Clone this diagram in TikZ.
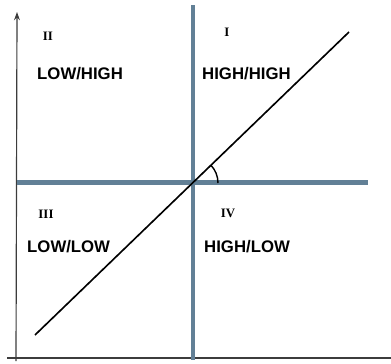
\documentclass[tikz,border=0pt]{standalone}
\usepackage{fontspec}
\setmainfont{Liberation Serif}
\setsansfont{Liberation Sans}
\usetikzlibrary{arrows.meta, calc}
\definecolor{bargrey}{RGB}{98,128,150}
\definecolor{axisgrey}{RGB}{60,60,60}

\begin{document}
\begin{tikzpicture}[x=0.03cm, y=-0.03cm,
                axis/.style={draw=axisgrey, line width=1pt},
                bar/.style={draw=bargrey, line width=4.2pt},
                trend/.style={draw=black, line width=1.4pt},
                quad/.style={font=\fontsize{11}{13}\selectfont\rmfamily\bfseries, inner sep=0pt},
                pair/.style={font=\fontsize{14.3}{16}\selectfont\sffamily\bfseries, anchor=west, inner sep=0pt}
            ]%
            \useasboundingbox (0,0) rectangle (391,364);
            %
            % Ejes
            \coordinate (yb) at (16,361);
            \coordinate (yt) at (17,12);
            \coordinate (xl) at (7,358);
            \coordinate (xr) at (391,358);
            \draw[axis, -{Stealth[length=7pt, width=5pt]}] (yb) -- (yt);
            \draw[axis] (xl) -- (xr);
            %
            % Divisiones de cuadrantes
            \coordinate (vt) at (193,5);
            \coordinate (vb) at (193,360);
            \coordinate (hl) at (17,182.5);
            \coordinate (hr) at (368,182.5);
            \draw[bar] (vt) -- (vb);
            \draw[bar] (hl) -- (hr);
            %
            % Recta y angulo
            \coordinate (o) at (192,183);
            \coordinate (d0) at (35,335);
            \coordinate (d1) at (349,32);
            \draw[trend] (d0) -- (d1);
            \draw[trend, line width=1.2pt] ($(o)+(26,0)$) arc[start angle=0, end angle=-44, radius=26];
            %
            % Etiquetas
            \node[quad] (q2) at (48,36) {II};
            \node[quad] (q1) at (227,32) {I};
            \node[quad] (q3) at (46,214) {III};
            \node[quad] (q4) at (228,213) {IV};
            \node[pair] (lh) at (37,74) {LOW/HIGH};
            \node[pair] (hh) at (202,74) {HIGH/HIGH};
            \node[pair] (ll) at (27,247) {LOW/LOW};
            \node[pair] (hl2) at (204,247) {HIGH/LOW};
        \end{tikzpicture}
\end{document}
